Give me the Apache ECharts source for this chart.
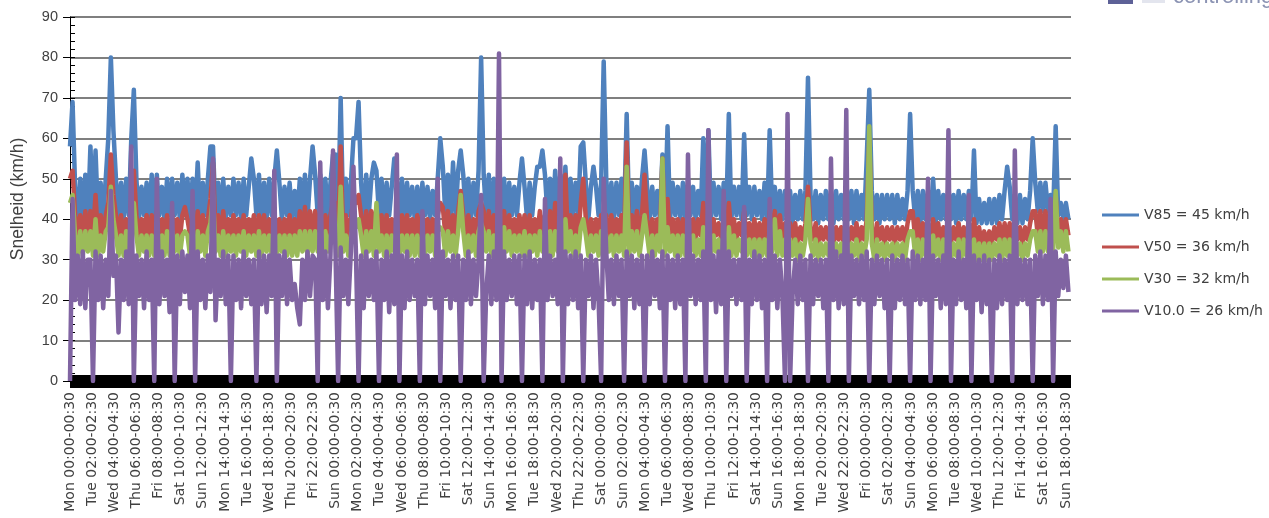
<!DOCTYPE html>
<html>
<head>
<meta charset="utf-8">
<script src="https://cdn.jsdelivr.net/npm/echarts@6/dist/echarts.min.js"></script>
<style>
html,body{margin:0;padding:0;background:#fff}
#main{width:1269px;height:518px}
</style>
</head>
<body>
<div id="main"></div>
<script>
// afstand tussen twee meetpunten (uren), labels elke 26 uur
var stepHours = 3;
var labelStep = 26;
var totalHours = 1176;

var xTickLabels = [
  'Mon 00:00-00:30','Tue 02:00-02:30','Wed 04:00-04:30','Thu 06:00-06:30','Fri 08:00-08:30',
  'Sat 10:00-10:30','Sun 12:00-12:30','Mon 14:00-14:30','Tue 16:00-16:30','Wed 18:00-18:30',
  'Thu 20:00-20:30','Fri 22:00-22:30','Sun 00:00-00:30','Mon 02:00-02:30','Tue 04:00-04:30',
  'Wed 06:00-06:30','Thu 08:00-08:30','Fri 10:00-10:30','Sat 12:00-12:30','Sun 14:00-14:30',
  'Mon 16:00-16:30','Tue 18:00-18:30','Wed 20:00-20:30','Thu 22:00-22:30','Sat 00:00-00:30',
  'Sun 02:00-02:30','Mon 04:00-04:30','Tue 06:00-06:30','Wed 08:00-08:30','Thu 10:00-10:30',
  'Fri 12:00-12:30','Sat 14:00-14:30','Sun 16:00-16:30','Mon 18:00-18:30','Tue 20:00-20:30',
  'Wed 22:00-22:30','Fri 00:00-00:30','Sat 02:00-02:30','Sun 04:00-04:30','Mon 06:00-06:30',
  'Tue 08:00-08:30','Wed 10:00-10:30','Thu 12:00-12:30','Fri 14:00-14:30','Sat 16:00-16:30',
  'Sun 18:00-18:30'
];

var seriesNames = ['V85 = 45 km/h','V50 = 36 km/h','V30 = 32 km/h','V10.0 = 26 km/h'];
var seriesColors = ['#4f81bd','#c0504d','#9bbb59','#8064a2'];

// een regel per dag: 00,03,06,09,12,15,18,21 uur
var v85 = [
  58,69,48,40,50,41,51,40,
  58,41,57,40,49,41,50,60,
  80,62,50,41,49,40,50,41,
  60,72,50,40,48,41,49,40,
  51,40,51,41,48,40,50,41,
  50,41,49,40,51,41,50,40,
  50,41,54,40,49,41,50,58,
  58,41,49,40,50,40,48,41,
  50,41,49,40,50,41,48,55,
  50,41,51,40,49,40,50,41,
  50,57,49,40,48,41,49,40,
  47,40,50,41,51,40,50,58,
  51,41,51,40,50,41,49,56,
  56,41,70,40,50,41,49,60,
  60,69,49,40,51,41,50,54,
  52,41,50,40,49,41,48,55,
  50,41,50,40,49,41,48,40,
  48,40,49,41,48,40,47,41,
  50,60,53,41,51,40,54,41,
  52,57,51,41,50,40,49,41,
  52,80,51,41,51,40,50,41,
  51,41,50,40,49,41,48,41,
  49,55,48,40,49,41,48,53,
  53,57,51,41,50,40,52,41,
  51,41,53,40,50,41,49,41,
  58,59,49,40,48,53,48,41,
  49,79,50,41,49,40,49,41,
  50,41,66,40,49,41,48,41,
  50,57,48,40,48,41,47,40,
  56,41,63,40,49,41,48,40,
  49,40,50,41,48,40,47,41,
  60,41,62,40,49,41,48,40,
  49,41,66,40,48,41,48,40,
  61,41,48,40,48,41,47,40,
  49,40,62,41,48,40,47,40,
  47,40,47,39,46,40,47,40,
  47,75,46,40,47,39,46,40,
  47,40,47,39,47,40,46,40,
  48,40,47,39,47,40,46,40,
  55,72,47,40,46,39,46,40,
  46,40,46,39,46,40,45,40,
  47,66,47,40,47,39,47,40,
  47,40,50,39,47,40,46,40,
  48,40,46,39,47,40,46,40,
  47,40,57,39,45,39,44,39,
  45,39,45,39,46,40,47,53,
  48,40,46,39,46,39,45,40,
  47,60,49,42,49,42,49,42,
  46,41,63,41,44,40,44,40
];

var v50 = [
  50,52,41,36,41,35,42,36,
  42,36,46,35,41,36,41,44,
  56,46,41,36,41,35,40,36,
  45,52,41,35,40,36,41,35,
  41,36,42,35,40,36,41,35,
  41,36,40,35,41,43,40,36,
  41,35,42,36,41,35,40,45,
  54,36,41,35,42,36,40,36,
  41,36,40,35,41,36,40,36,
  41,35,41,36,41,35,40,36,
  41,36,40,35,40,36,41,35,
  40,35,42,36,43,35,42,36,
  42,36,42,35,41,36,41,44,
  44,36,58,35,41,36,40,45,
  44,46,41,35,42,36,42,36,
  43,36,41,35,41,36,40,36,
  42,35,41,36,41,35,40,36,
  41,36,41,35,40,36,40,35,
  41,44,43,36,42,35,41,36,
  42,47,41,36,41,35,40,36,
  42,44,42,36,42,35,41,36,
  41,36,42,35,41,36,40,36,
  41,36,41,35,41,36,40,36,
  42,36,41,36,42,35,44,36,
  41,36,51,35,41,36,41,35,
  44,50,40,36,40,35,40,36,
  41,36,41,35,41,36,40,36,
  41,36,59,35,41,36,42,36,
  41,51,40,35,40,36,40,35,
  55,36,45,35,40,36,40,35,
  40,35,41,36,40,35,40,36,
  44,36,42,35,40,36,39,35,
  40,35,44,36,40,35,39,36,
  42,35,39,35,40,35,39,35,
  40,35,42,36,42,35,41,35,
  39,34,39,35,39,34,38,35,
  39,48,38,35,39,34,38,35,
  38,35,39,34,38,35,38,34,
  39,34,38,35,39,34,38,35,
  40,60,38,34,39,35,38,34,
  38,35,38,34,38,35,38,34,
  39,42,42,35,40,34,39,35,
  39,34,40,35,39,34,38,35,
  39,34,38,35,39,34,38,35,
  39,35,40,34,38,34,37,34,
  37,34,38,35,39,34,39,35,
  39,34,38,35,38,34,38,35,
  39,42,42,36,42,36,42,36,
  40,36,46,36,40,36,40,36
];

var v30 = [
  44,46,36,31,37,31,37,32,
  37,31,40,31,36,32,37,38,
  48,40,36,31,36,31,37,32,
  40,44,36,31,36,32,36,31,
  36,31,37,32,36,31,37,31,
  37,32,36,31,36,37,36,31,
  36,31,37,32,36,31,37,39,
  46,32,36,31,37,31,36,32,
  36,31,36,32,37,31,36,32,
  36,31,37,31,36,32,36,31,
  37,31,36,32,36,31,36,31,
  36,31,37,32,37,31,37,32,
  37,32,37,31,37,32,36,38,
  38,31,48,32,36,31,36,38,
  38,40,36,31,37,32,37,31,
  44,32,36,31,36,31,36,32,
  37,31,36,32,36,31,36,31,
  36,31,36,31,36,32,36,31,
  37,38,37,31,37,32,36,31,
  37,46,37,31,36,32,36,31,
  37,39,37,32,37,31,36,32,
  37,31,38,32,37,31,36,32,
  36,31,37,31,36,32,36,31,
  37,32,36,31,37,31,37,32,
  37,31,40,32,37,31,36,31,
  38,40,36,31,36,32,36,31,
  37,31,36,32,36,31,36,32,
  36,31,53,31,37,32,37,31,
  36,41,36,31,36,31,36,32,
  55,31,38,32,36,31,36,31,
  36,31,36,32,36,31,35,31,
  38,31,37,31,36,32,35,31,
  36,31,38,31,36,31,35,32,
  36,31,35,31,35,31,35,31,
  35,31,37,32,40,31,37,31,
  35,30,35,31,35,30,34,31,
  35,45,34,31,35,30,34,31,
  34,31,35,30,34,31,34,30,
  35,30,34,31,35,30,34,31,
  35,63,34,30,35,31,34,30,
  34,31,34,30,34,31,34,30,
  35,37,37,31,35,30,35,31,
  35,30,36,31,35,30,35,31,
  35,30,34,31,35,30,35,31,
  35,31,35,30,34,30,34,30,
  34,30,34,31,35,30,35,31,
  35,30,34,31,34,30,34,31,
  35,37,37,32,37,32,37,32,
  36,32,47,33,37,32,37,32
];

var v10 = [
  0,45,20,31,19,32,18,30,
  30,0,32,20,31,18,30,21,
  47,26,31,12,30,20,32,19,
  58,0,31,21,30,18,32,20,
  30,0,50,19,32,21,30,17,
  44,0,31,19,32,22,31,18,
  47,0,32,20,30,18,31,22,
  55,15,30,21,32,19,31,0,
  31,20,30,18,32,21,30,19,
  30,0,32,19,31,17,31,21,
  52,0,31,21,32,19,30,20,
  24,18,14,30,20,32,21,31,
  30,0,54,20,32,18,31,57,
  31,0,33,21,30,19,32,53,
  31,0,31,18,32,21,30,20,
  32,0,30,20,32,17,31,19,
  56,0,31,18,32,20,30,21,
  30,0,42,19,31,21,30,18,
  50,0,32,21,30,18,31,20,
  31,0,30,20,32,19,30,21,
  30,46,0,22,31,19,32,20,
  81,0,32,20,30,21,31,19,
  31,0,31,19,32,18,30,20,
  30,0,45,20,31,21,30,19,
  55,0,32,19,31,20,32,18,
  31,0,30,21,31,18,30,20,
  0,50,32,20,30,19,31,21,
  30,0,32,21,31,18,30,19,
  31,0,31,19,32,21,30,18,
  32,0,31,20,30,18,31,19,
  30,0,56,21,31,19,30,20,
  32,0,62,20,31,17,32,19,
  47,0,32,21,30,19,30,20,
  43,0,30,19,32,20,31,18,
  30,0,45,20,31,18,30,21,
  0,66,0,22,30,19,31,20,
  30,0,31,19,30,21,30,18,
  30,0,55,20,32,18,31,19,
  67,0,31,21,30,19,31,20,
  32,0,30,19,31,21,30,18,
  30,0,31,18,30,20,31,19,
  30,0,32,20,31,19,30,20,
  50,0,31,21,30,18,31,19,
  62,0,30,19,32,20,30,18,
  46,0,31,20,30,17,31,19,
  30,0,30,18,31,19,30,20,
  31,0,57,19,30,20,30,19,
  30,0,31,21,32,19,31,20,
  45,0,32,21,30,23,31,22
];

// index -> [uur, waarde]
function toPoints(arr){
  return arr.map(function(v,i){ return [i*stepHours, v]; });
}

var allValues = [v85, v50, v30, v10];
var series = allValues.map(function(arr, k){
  return {
    name: seriesNames[k],
    type: 'line',
    data: toPoints(arr),
    symbol: 'none',
    showSymbol: false,
    color: seriesColors[k],
    lineStyle: {width: 4.5, color: seriesColors[k], join: 'round'},
    emphasis: {disabled: true},
    animation: false
  };
});

var chart = echarts.init(document.getElementById('main'));
chart.setOption({
  backgroundColor: '#fff',
  animation: false,
  grid: {left: 70, top: 17, width: 1001, height: 364},
  legend: {
    orient: 'vertical',
    left: 1097,
    top: 202,
    icon: 'rect',
    itemWidth: 37,
    itemHeight: 3,
    itemGap: 16,
    selectedMode: false,
    textStyle: {fontFamily: 'DejaVu Sans', fontSize: 14, color: '#404040', lineHeight: 16},
    data: seriesNames
  },
  xAxis: {
    type: 'value',
    min: 0,
    max: totalHours,
    interval: labelStep,
    axisLine: {show: true, onZero: false, lineStyle: {color: '#000', width: 13, cap: 'butt'}},
    axisTick: {show: false},
    splitLine: {show: false},
    axisLabel: {
      rotate: 90,
      margin: 11,
      fontFamily: 'DejaVu Sans',
      fontSize: 14,
      color: '#404040',
      showMaxLabel: false,
      formatter: function(v){
        if (v % labelStep !== 0) return '';
        return xTickLabels[v / labelStep] || '';
      }
    }
  },
  yAxis: [{
    type: 'value',
    min: 0,
    max: 90,
    interval: 10,
    name: 'Snelheid (km/h)',
    nameLocation: 'middle',
    nameGap: 43,
    nameTextStyle: {fontFamily: 'Liberation Sans', fontSize: 17.5, color: '#404040'},
    axisLine: {show: true, lineStyle: {color: '#000', width: 1}},
    axisTick: {show: true, length: 7, lineStyle: {color: '#000'}},
    axisLabel: {fontFamily: 'Liberation Sans', fontSize: 14.5, color: '#404040', margin: 12},
    splitLine: {show: true, lineStyle: {color: '#555', width: 1.5}}
  }, {
    // alleen de kleine streepjes binnen de as
    type: 'value',
    position: 'left',
    min: 0,
    max: 90,
    interval: 2,
    axisLine: {show: false},
    axisTick: {show: true, inside: true, length: 5, lineStyle: {color: '#000'}},
    axisLabel: {show: false},
    splitLine: {show: false}
  }],
  graphic: [
    {type: 'rect', left: 1108, top: -8, shape: {width: 25, height: 12}, style: {fill: '#5d6197'}},
    {type: 'rect', left: 1142, top: -8, shape: {width: 23, height: 11}, style: {fill: '#e3e5ee'}},
    {type: 'text', left: 1173, top: -14, style: {text: 'controlling', font: '22px "Liberation Sans"', fill: '#8b93b3'}}
  ],
  series: series
});
</script>
</body>
</html>
